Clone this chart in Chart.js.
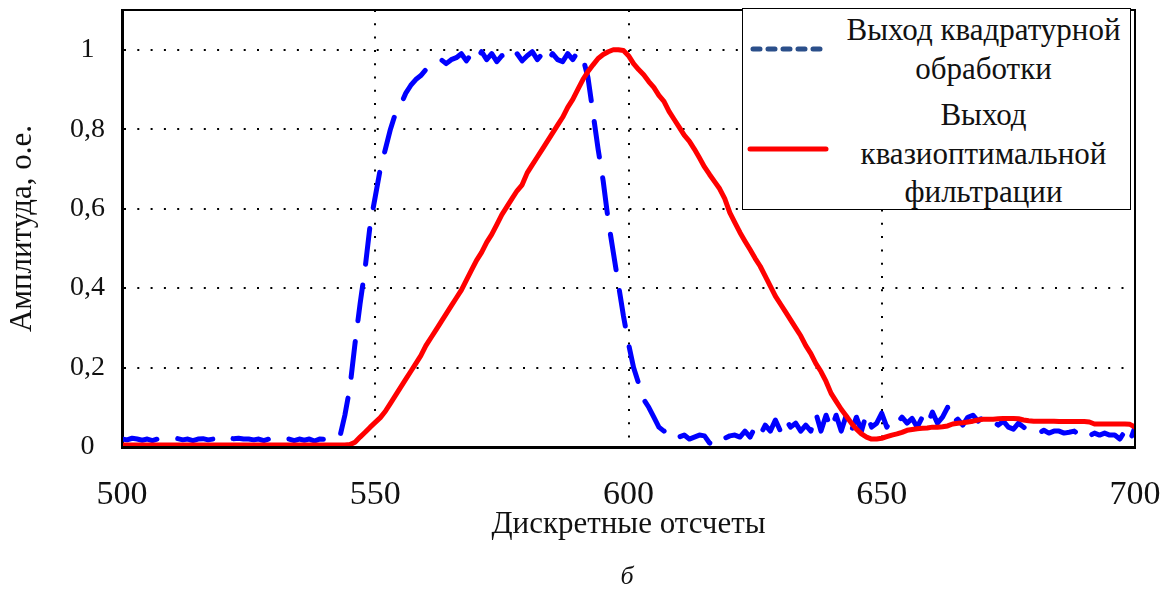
<!DOCTYPE html>
<html>
<head>
<meta charset="utf-8">
<script src="https://cdn.jsdelivr.net/npm/chart.js@4.4.0/dist/chart.umd.min.js"></script>
<style>
  body { margin: 0; background: #fff; }
  #wrap { position: relative; width: 1172px; height: 589px; }
  #legend { position: absolute; left: 742px; top: 8px; width: 387px; height: 200px;
    border: 1.5px solid #000; background: #fff; font-family: "Liberation Serif", serif; font-size: 31px; color: #111; }
  #legend .t { position: absolute; left: 94px; right: 0; text-align: center; line-height: 34px; white-space: nowrap; }
  #legend svg { position: absolute; left: 0; top: 0; }
  #caption { position: absolute; left: 600px; top: 561px; width: 54px; text-align: center;
    font-family: "Liberation Serif", serif; font-style: italic; font-size: 26px; color: #111; }
</style>
</head>
<body>
<div id="wrap">
  <canvas id="chart-line" width="1172" height="589"></canvas>
  <div id="legend">
    <svg width="100" height="200">
      <line x1="10" y1="40" x2="84" y2="40" stroke="#2b4f8a" stroke-width="5" stroke-linecap="round" stroke-dasharray="7 8"/>
      <line x1="7" y1="140" x2="83" y2="140" stroke="#ff0000" stroke-width="5" stroke-linecap="round"/>
    </svg>
    <div class="t" style="top:4px">Выход квадратурной</div>
    <div class="t" style="top:43px">обработки</div>
    <div class="t" style="top:89px">Выход</div>
    <div class="t" style="top:128px">квазиоптимальной</div>
    <div class="t" style="top:166px">фильтрации</div>
  </div>
  <div id="caption">б</div>
</div>
<script>
// sample index range (discrete samples 500..700)
var xStart = 500;
var xTicks = [500, 550, 600, 650, 700];
var yTicks = [0, 0.2, 0.4, 0.6, 0.8, 1];
var yTickLabels = ['0', '0,2', '0,4', '0,6', '0,8', '1'];

var seriesNames = ['Выход квадратурной обработки', 'Выход квазиоптимальной фильтрации'];

// quadrature output (blue, noisy)
var quadValues = [
  0.02, 0.018, 0.022, 0.02, 0.017, 0.02, 0.016, 0.02, 0.02, 0.022,
  0.02, 0.021, 0.018, 0.02, 0.016, 0.02, 0.021, 0.018, 0.02, 0.015,
  0.02, 0.022, 0.021, 0.022, 0.02, 0.02, 0.018, 0.02, 0.016, 0.02,
  0.018, 0.015, 0.018, 0.02, 0.016, 0.02, 0.017, 0.02, 0.015, 0.02,
  0.019, 0.016, 0.02, 0.025,
  0.08, 0.15, 0.26, 0.36, 0.45, 0.56, 0.63, 0.70, 0.75, 0.80,
  0.84, 0.86, 0.89, 0.91, 0.925, 0.935, 0.95, 0.955, 0.97, 0.975,
  0.965, 0.975,
  0.98, 0.99, 0.972, 0.99, 0.975, 0.995, 0.975, 0.99, 0.97, 0.985,
  0.99, 0.975, 0.99, 0.972, 0.985, 0.995, 0.975, 0.99, 0.97, 0.99,
  0.975, 0.97, 0.99, 0.975, 0.995, 0.98,
  0.93, 0.84, 0.75, 0.67, 0.57, 0.49, 0.41, 0.33, 0.26, 0.2,
  0.16, 0.12, 0.1, 0.075, 0.05, 0.04, 0.048, 0.03, 0.025, 0.03,
  0.02, 0.025, 0.03, 0.028, 0.01, 0.005, 0.025, 0.022, 0.028, 0.03,
  0.025, 0.04, 0.025, 0.05, 0.03, 0.055, 0.04, 0.068, 0.04, 0.07,
  0.05, 0.06, 0.04, 0.055, 0.04, 0.085, 0.04, 0.08, 0.045, 0.08,
  0.04, 0.08, 0.04, 0.075, 0.04, 0.085, 0.05, 0.06, 0.085, 0.05,
  0.07, 0.06, 0.075, 0.06, 0.072, 0.05, 0.075, 0.055, 0.088, 0.06,
  0.075, 0.1, 0.06, 0.07, 0.055, 0.075, 0.08, 0.065, 0.075, 0.06,
  0.065, 0.055, 0.065, 0.05, 0.045, 0.06, 0.05, 0.04, 0.045, 0.035,
  0.042, 0.035, 0.04, 0.04, 0.035, 0.037, 0.04, 0.03, 0.04, 0.028,
  0.035, 0.03, 0.035, 0.03, 0.03, 0.02, 0.04, 0.015, 0.05
];

// quasi-optimal filter output (red, smooth)
var filterValues = [
  0.005, 0.005, 0.005, 0.005, 0.005, 0.005, 0.005, 0.005, 0.005, 0.005,
  0.005, 0.005, 0.005, 0.005, 0.005, 0.005, 0.005, 0.005, 0.005, 0.005,
  0.005, 0.005, 0.005, 0.005, 0.005, 0.005, 0.005, 0.005, 0.005, 0.005,
  0.005, 0.005, 0.005, 0.005, 0.005, 0.005, 0.005, 0.005, 0.005, 0.005,
  0.005, 0.005, 0.005, 0.005, 0.005,
  0.006, 0.012, 0.025, 0.037, 0.05, 0.062, 0.074, 0.09, 0.11, 0.13,
  0.15, 0.17, 0.19, 0.21, 0.23, 0.255, 0.275, 0.295, 0.315, 0.335,
  0.355, 0.375, 0.395, 0.42, 0.445, 0.47, 0.49, 0.515, 0.535, 0.56,
  0.585, 0.605, 0.625, 0.645, 0.66, 0.69, 0.71, 0.73, 0.75, 0.77,
  0.79, 0.81, 0.83, 0.855, 0.875, 0.9, 0.925, 0.945, 0.962, 0.978,
  0.988, 0.995, 1.0, 1.0, 0.998, 0.985, 0.965, 0.95, 0.937, 0.92,
  0.905, 0.885, 0.87, 0.845, 0.825, 0.805, 0.785, 0.77, 0.75, 0.728,
  0.705, 0.686, 0.668, 0.65, 0.625, 0.59, 0.565, 0.54, 0.518, 0.497,
  0.475, 0.455, 0.43, 0.405, 0.38, 0.36, 0.34, 0.32, 0.3, 0.28,
  0.255, 0.235, 0.21, 0.19, 0.165, 0.135, 0.115, 0.095, 0.078, 0.06,
  0.045, 0.033, 0.025, 0.02, 0.02, 0.022, 0.026, 0.03, 0.033, 0.037,
  0.042, 0.044, 0.046, 0.047, 0.048, 0.05, 0.05, 0.051, 0.053, 0.058,
  0.06, 0.061, 0.063, 0.065, 0.068, 0.07, 0.07, 0.07, 0.071, 0.072,
  0.072, 0.072, 0.071, 0.068, 0.066, 0.065, 0.065, 0.065, 0.065, 0.065,
  0.064, 0.064, 0.064, 0.064, 0.064, 0.064, 0.063, 0.058, 0.058, 0.058,
  0.058, 0.058, 0.058, 0.058, 0.057, 0.05
];

function toPoints(values) {
  return values.map(function (v, i) { return { x: xStart + i, y: v }; });
}

// frame around the plot area (top/right borders like MATLAB box on)
var framePlugin = {
  id: 'frame',
  afterDraw: function (chart) {
    var a = chart.chartArea, ctx = chart.ctx;
    ctx.save();
    ctx.strokeStyle = '#000';
    ctx.lineWidth = 2;
    ctx.strokeRect(a.left, a.top, a.right - a.left, a.bottom - a.top);
    ctx.restore();
  }
};

var ctx = document.getElementById("chart-line").getContext("2d");
new Chart(ctx, {
  type: "line",
  data: {
    datasets: [{
      label: seriesNames[0],
      data: toPoints(quadValues),
      borderColor: "#0000ff",
      borderWidth: 5,
      borderDash: [36, 21],
      borderCapStyle: 'round',
      borderJoinStyle: 'round',
      pointRadius: 0,
      tension: 0,
      fill: false,
      order: 2
    }, {
      label: seriesNames[1],
      data: toPoints(filterValues),
      borderColor: "#ff0000",
      borderWidth: 5,
      borderCapStyle: 'round',
      borderJoinStyle: 'round',
      pointRadius: 0,
      tension: 0,
      fill: false,
      order: 1
    }]
  },
  options: {
    responsive: false,
    animation: false,
    layout: { padding: { top: 10, right: 37, left: 0, bottom: 0 } },
    plugins: {
      legend: { display: false },
      tooltip: { enabled: false }
    },
    scales: {
      x: {
        type: 'linear',
        min: 500,
        max: 700,
        afterFit: function (scale) {
          scale.height = 142;
          scale.paddingLeft = 0;
          scale.paddingRight = 0;
        },
        afterBuildTicks: function (scale) {
          scale.ticks = xTicks.map(function (v) { return { value: v }; });
        },
        border: { display: true, color: '#000', width: 3, dash: [2, 11.3] },
        grid: {
          drawTicks: false,
          color: '#000',
          lineWidth: 2
        },
        ticks: {
          color: '#111',
          padding: 28,
          maxRotation: 0,
          font: { family: "Liberation Serif", size: 34 },
          callback: function (v) { return String(v); }
        },
        title: {
          display: true,
          text: 'Дискретные отсчеты',
          color: '#111',
          font: { family: "Liberation Serif", size: 31 },
          padding: { top: 0, bottom: 46 }
        }
      },
      y: {
        min: 0,
        max: 1.1,
        afterFit: function (scale) {
          scale.width = 122;
          scale.paddingTop = 0;
          scale.paddingBottom = 0;
        },
        afterBuildTicks: function (scale) {
          scale.ticks = yTicks.map(function (v) { return { value: v }; });
        },
        border: { display: true, color: '#000', width: 3, dash: [2, 11.3] },
        grid: {
          drawTicks: false,
          color: '#000',
          lineWidth: 2
        },
        ticks: {
          color: '#111',
          padding: 17,
          crossAlign: 'center',
          font: { family: "Liberation Serif", size: 28 },
          callback: function (v, i) { return yTickLabels[i]; }
        },
        title: {
          display: true,
          text: 'Амплитуда, о.е.',
          color: '#111',
          font: { family: "Liberation Serif", size: 31 },
          padding: { top: 4, bottom: 0 }
        }
      }
    }
  },
  plugins: [framePlugin]
});
</script>
</body>
</html>
